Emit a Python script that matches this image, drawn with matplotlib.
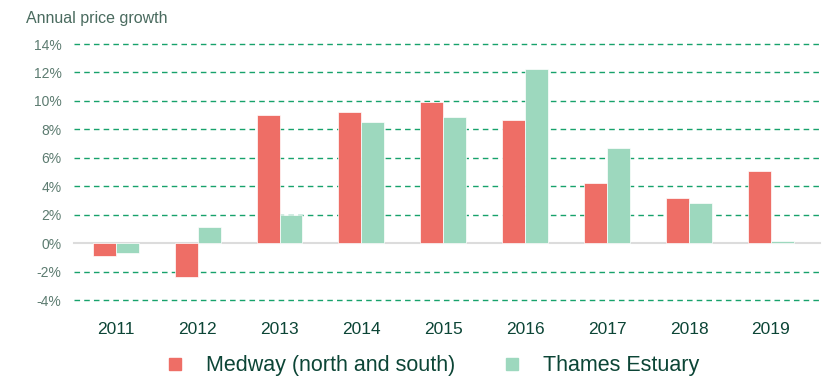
import matplotlib.pyplot as plt
from matplotlib.lines import Line2D
import numpy as np

plt.rcParams['font.family'] = ['Liberation Sans', 'DejaVu Sans']

years = ['2011', '2012', '2013', '2014', '2015', '2016', '2017', '2018', '2019']
medway = [-0.9, -2.35, 9.0, 9.25, 9.95, 8.65, 4.2, 3.2, 5.1]
thames = [-0.7, 1.1, 1.95, 8.5, 8.85, 12.25, 6.7, 2.85, 0.15]
y_ticks = [-4, -2, 0, 2, 4, 6, 8, 10, 12, 14]

red = '#ee6e66'
green = '#9dd8be'
grid_col = '#17a26b'
tick_col = '#5c7b70'
dark = '#0c4536'

fig = plt.figure(figsize=(8.26, 3.81), dpi=100)
ax = fig.add_axes([74 / 826, 1 - 300 / 381, (820 - 74) / 826, (300 - 44) / 381])

x = np.arange(len(years))
w = 0.28
ax.bar(x - w / 2, medway, w, color=red, edgecolor='white', linewidth=0.5, zorder=3)
ax.bar(x + w / 2, thames, w, color=green, edgecolor='white', linewidth=0.5, zorder=3)

# dashed gridlines, solid grey baseline at zero
for t in y_ticks:
    if t == 0:
        ax.axhline(0, color='#dcdcdc', lw=1.5, zorder=2, clip_on=False)
    else:
        ax.axhline(t, color=grid_col, lw=1.0, dashes=(4, 3), zorder=1, clip_on=False)

ax.set_xlim(-0.51, 8.6)
ax.set_ylim(-4, 14)
ax.set_yticks(y_ticks)
ax.set_yticklabels([f'{t}%' for t in y_ticks], fontsize=10, color=tick_col)
ax.set_xticks(x)
ax.set_xticklabels(years, fontsize=12.5, color=dark)
ax.tick_params(axis='y', length=0, pad=9)
ax.tick_params(axis='x', length=0, pad=15.5)
for s in ax.spines.values():
    s.set_visible(False)

fig.text(26 / 826, 1 - 18 / 381, 'Annual price growth', fontsize=11.5,
         color='#4a6b5f', va='center', ha='left')

handles = [Line2D([], [], ls='none', marker='s', markersize=8.6, color=red),
           Line2D([], [], ls='none', marker='s', markersize=8.6, color=green)]
fig.legend(handles, ['Medway (north and south)', 'Thames Estuary'],
           loc='center', bbox_to_anchor=(433 / 826, 1 - 366 / 381), ncol=2,
           frameon=False, fontsize=15.5, labelcolor=dark, handlelength=0.8,
           handletextpad=1.04, columnspacing=2.25, borderpad=0)

fig.savefig('out.png', dpi=100)
